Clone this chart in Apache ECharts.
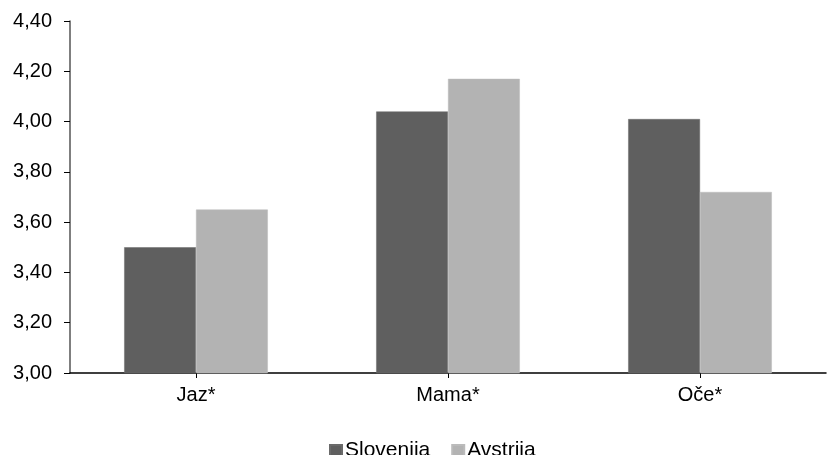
<!DOCTYPE html>
<html><head><meta charset="utf-8">
<script src="https://cdn.jsdelivr.net/npm/echarts@6/dist/echarts.min.js"></script>
<style>html,body{margin:0;padding:0;background:#fff}#c{width:828px;height:455px}</style>
</head><body><div id="c"></div>
<script>
const categories = ['Jaz*', 'Mama*', 'Oče*'];
const slovenija = [3.50, 4.04, 4.01];
const avstrija = [3.65, 4.17, 3.72];
const seriesNames = ['Slovenija', 'Avstrija'];

const chart = echarts.init(document.getElementById('c'));
const font = 'Liberation Sans, Arial, sans-serif';
chart.setOption({
  animation: false,
  grid: {left: 70, right: 2, top: 21, bottom: 82},
  legend: {
    top: 440, left: 329, itemWidth: 12, itemHeight: 11, itemGap: 21,
    icon: 'rect', padding: 0,
    textStyle: {fontFamily: font, fontSize: 21, color: '#000', padding: [0,0,0,-2]},
    data: seriesNames
  },
  xAxis: {
    type: 'category', data: categories,
    axisLine: {lineStyle: {color: '#000', width: 1.5}},
    axisTick: {show: true, alignWithLabel: true, length: 5, lineStyle: {color: '#000'}},
    axisLabel: {fontFamily: font, fontSize: 20, color: '#000', margin: 12}
  },
  yAxis: {
    type: 'value', min: 3.0, max: 4.4, interval: 0.2,
    splitLine: {show: false},
    axisLine: {show: true, lineStyle: {color: '#555', width: 1.5}},
    axisTick: {show: true, length: 6, lineStyle: {color: '#000'}},
    axisLabel: {fontFamily: font, fontSize: 20, color: '#000', margin: 18,
      formatter: v => v.toFixed(2).replace('.', ',')}
  },
  series: [
    {name: seriesNames[0], type: 'bar', data: slovenija, barGap: '0%', barCategoryGap: '43%',
     itemStyle: {color: '#5f5f5f', borderColor: '#6a6a6a', borderWidth: 0.5}},
    {name: seriesNames[1], type: 'bar', data: avstrija, barGap: '0%', barCategoryGap: '43%',
     itemStyle: {color: '#b3b3b3', borderColor: '#bbbbbb', borderWidth: 0.5}}
  ]
});
</script></body></html>
